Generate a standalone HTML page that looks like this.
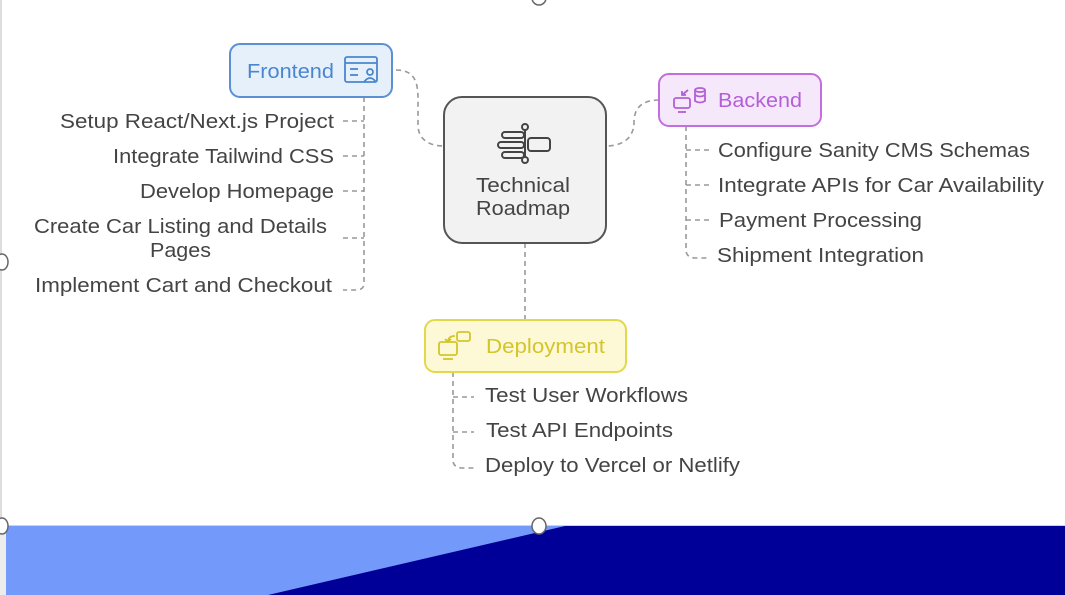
<!DOCTYPE html>
<html><head><meta charset="utf-8"><style>
html,body{margin:0;padding:0;background:#fff;}
svg{display:block;font-family:"Liberation Sans",sans-serif;}
</style></head><body>
<svg width="1065" height="595" viewBox="0 0 1065 595" xmlns="http://www.w3.org/2000/svg">
<rect width="1065" height="595" fill="#fff"/>
<line x1="1" y1="0" x2="1" y2="525" stroke="#bbb" stroke-width="1"/>
<rect x="0" y="525" width="1065" height="70" fill="#ececec"/>
<polygon points="6,526 1065,526 1065,595 6,595" fill="#7399fa"/>
<polygon points="565,526 1065,526 1065,595 268,595" fill="#000099"/>
<line x1="6" y1="525.5" x2="1065" y2="525.5" stroke="#c8d4ee" stroke-width="1"/>
<g fill="#fff" stroke="#666" stroke-width="1.5">
<ellipse cx="539" cy="-2" rx="7" ry="7"/>
<ellipse cx="2" cy="262" rx="6" ry="8"/>
<ellipse cx="2" cy="526" rx="6" ry="8"/>
<ellipse cx="539" cy="526" rx="7" ry="8"/>
</g>
<g fill="none" stroke="#999" stroke-width="1.6" stroke-dasharray="5,4">
<path d="M396,70 C420,70 418,90 418,110 L418,125 C418,140 430,146 444,146"/>
<path d="M659,100 C640,100 634,110 634,122 C634,140 620,146 606,146"/>
<path d="M525,243 L525,320"/>
<path d="M364,97 L364,283 Q364,290 356,290 L343,290"/>
<path d="M343,121 L364,121 M343,156 L364,156 M343,191 L364,191 M343,238 L364,238"/>
<path d="M686,126 L686,250 Q686,257 694,258 L709,258"/>
<path d="M686,150 L709,150 M686,185 L709,185 M686,220 L709,220"/>
<path d="M453,372 L453,460 Q453,467 461,468 L474,468"/>
<path d="M453,397 L474,397 M453,432 L474,432"/>
</g>
<rect x="230" y="44" width="162" height="53" rx="10" fill="#e6f0fb" stroke="#5b8fd6" stroke-width="2"/>
<text x="247" y="78" font-size="20" fill="#4a86d0" textLength="87" lengthAdjust="spacingAndGlyphs">Frontend</text>
<g fill="none" stroke="#4a86d0" stroke-width="1.8">
<rect x="345" y="57" width="32" height="25" rx="2"/>
<line x1="345" y1="63" x2="377" y2="63"/>
<line x1="350" y1="69" x2="358" y2="69"/><line x1="350" y1="75" x2="358" y2="75"/>
<circle cx="370" cy="72" r="3"/><path d="M364,82 Q370,74 376,82"/>
</g>
<rect x="444" y="97" width="162" height="146" rx="18" fill="#f2f2f2" stroke="#555" stroke-width="2"/>
<g fill="none" stroke="#444" stroke-width="2">
<circle cx="525" cy="127" r="3"/><circle cx="525" cy="160" r="3"/>
<line x1="525" y1="130" x2="525" y2="157"/>
<rect x="502" y="132" width="22" height="6" rx="3"/>
<rect x="498" y="142" width="26" height="6" rx="3"/>
<rect x="502" y="152" width="22" height="6" rx="3"/>
<rect x="528" y="138" width="22" height="13" rx="3"/>
</g>
<text x="476" y="192" font-size="20" fill="#444" textLength="94" lengthAdjust="spacingAndGlyphs">Technical</text>
<text x="476" y="215" font-size="20" fill="#444" textLength="94" lengthAdjust="spacingAndGlyphs">Roadmap</text>
<rect x="659" y="74" width="162" height="52" rx="10" fill="#f6e8fb" stroke="#c36de0" stroke-width="2"/>
<text x="718" y="107" font-size="20" fill="#b45fd6" textLength="84" lengthAdjust="spacingAndGlyphs">Backend</text>
<g fill="none" stroke="#b45fd6" stroke-width="1.8">
<rect x="674" y="98" width="16" height="10" rx="2"/><line x1="678" y1="112" x2="686" y2="112"/>
<ellipse cx="700" cy="90" rx="5" ry="2"/><path d="M695,90 L695,101 Q700,104 705,101 L705,90 M695,95 Q700,98 705,95"/>
<path d="M688,90 L682,95 M682,91 L682,95 L686,95"/>
</g>
<rect x="425" y="320" width="201" height="52" rx="10" fill="#fdf9d6" stroke="#e3d84a" stroke-width="2"/>
<text x="486" y="353" font-size="20" fill="#d4c52a" textLength="119" lengthAdjust="spacingAndGlyphs">Deployment</text>
<g fill="none" stroke="#d4c52a" stroke-width="1.8">
<rect x="439" y="342" width="18" height="13" rx="2"/><line x1="443" y1="359" x2="453" y2="359"/>
<rect x="457" y="332" width="13" height="9" rx="2"/><path d="M455,336 Q448,336 448,342 M445,339 L448,342 L451,339"/>
</g>
<g font-size="20" fill="#444" lengthAdjust="spacingAndGlyphs">
<text x="60" y="128" textLength="274" lengthAdjust="spacingAndGlyphs">Setup React/Next.js Project</text>
<text x="113" y="163" textLength="221" lengthAdjust="spacingAndGlyphs">Integrate Tailwind CSS</text>
<text x="140" y="198" textLength="194" lengthAdjust="spacingAndGlyphs">Develop Homepage</text>
<text x="34" y="233" textLength="293" lengthAdjust="spacingAndGlyphs">Create Car Listing and Details</text>
<text x="150" y="257" textLength="61" lengthAdjust="spacingAndGlyphs">Pages</text>
<text x="35" y="292" textLength="297" lengthAdjust="spacingAndGlyphs">Implement Cart and Checkout</text>
<text x="718" y="157" textLength="312" lengthAdjust="spacingAndGlyphs">Configure Sanity CMS Schemas</text>
<text x="718" y="192" textLength="326" lengthAdjust="spacingAndGlyphs">Integrate APIs for Car Availability</text>
<text x="719" y="227" textLength="203" lengthAdjust="spacingAndGlyphs">Payment Processing</text>
<text x="717" y="262" textLength="207" lengthAdjust="spacingAndGlyphs">Shipment Integration</text>
<text x="485" y="402" textLength="203" lengthAdjust="spacingAndGlyphs">Test User Workflows</text>
<text x="486" y="437" textLength="187" lengthAdjust="spacingAndGlyphs">Test API Endpoints</text>
<text x="485" y="472" textLength="255" lengthAdjust="spacingAndGlyphs">Deploy to Vercel or Netlify</text>
</g>
</svg>
</body></html>
